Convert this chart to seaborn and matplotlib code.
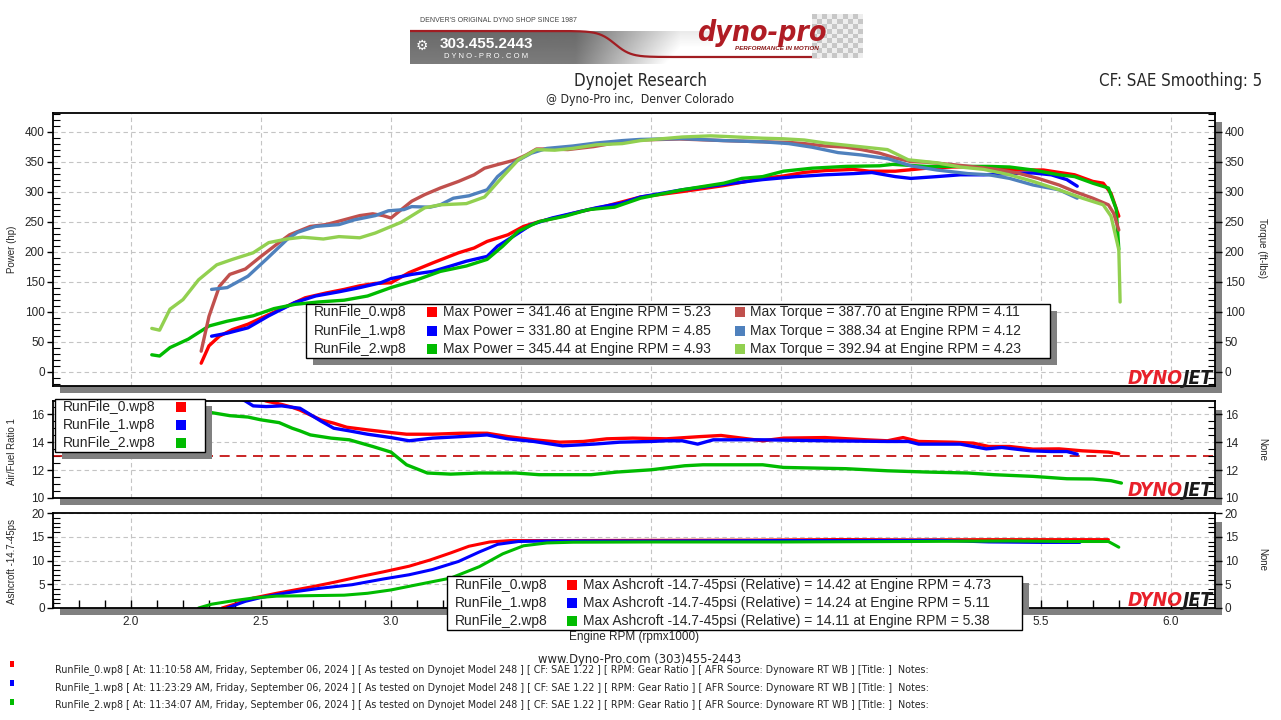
import numpy as np
import matplotlib
matplotlib.use('Agg')
import matplotlib.pyplot as plt
import seaborn as sns
from matplotlib.patches import Rectangle
from matplotlib.ticker import MultipleLocator
from matplotlib import font_manager

# ---- data ----
runs = ['RunFile_0.wp8', 'RunFile_1.wp8', 'RunFile_2.wp8']
run_times = ['11:10:58 AM', '11:23:29 AM', '11:34:07 AM']
power_colors = ['#ff0000', '#0000ff', '#00bb00']
torque_colors = ['#c0504d', '#4f81bd', '#92d050']

max_power = [341.46, 331.80, 345.44]
max_power_rpm = [5.23, 4.85, 4.93]
max_torque = [387.70, 388.34, 392.94]
max_torque_rpm = [4.11, 4.12, 4.23]
max_boost = [14.42, 14.24, 14.11]
max_boost_rpm = [4.73, 5.11, 5.38]

pwr0_rpm = [2.27, 2.30, 2.34, 2.39, 2.45, 2.52, 2.60, 2.67, 2.75, 2.82, 2.88, 2.94, 3.00, 3.07, 3.16, 3.26,
            3.32, 3.37, 3.45, 3.51, 3.57, 3.65, 3.73, 3.82, 3.96, 4.12, 4.28, 4.43, 4.51, 4.59, 4.67, 4.78,
            4.84, 4.94, 5.06, 5.16, 5.23, 5.27, 5.35, 5.41, 5.51, 5.57, 5.63, 5.70, 5.74, 5.77, 5.80]
pwr0 = [14, 43, 59, 70, 79, 93, 109, 123, 131, 137, 143, 147, 148, 165, 181, 198,
        206, 217, 228, 242, 250, 258, 267, 275, 291, 300, 310, 322, 326, 332, 335, 337,
        334, 334, 339, 341, 341.5, 341, 337, 336, 336, 332, 328, 317, 314, 297, 259]
pwr1_rpm = [2.31, 2.37, 2.45, 2.53, 2.63, 2.71, 2.80, 2.88, 2.96, 3.00, 3.08, 3.16, 3.23, 3.29, 3.37, 3.41,
            3.48, 3.54, 3.62, 3.70, 3.79, 3.89, 3.96, 4.12, 4.28, 4.43, 4.56, 4.67, 4.78, 4.85, 4.94, 5.00,
            5.10, 5.19, 5.28, 5.38, 5.47, 5.54, 5.60, 5.64]
pwr1 = [59, 64, 73, 93, 115, 126, 133, 140, 148, 155, 162, 167, 176, 184, 192, 209,
        228, 245, 256, 264, 273, 281, 291, 303, 312, 320, 325, 328, 330, 331.8, 325, 322,
        325, 328, 328, 330, 331, 328, 320, 309]
pwr2_rpm = [2.08, 2.11, 2.15, 2.22, 2.30, 2.37, 2.47, 2.55, 2.63, 2.72, 2.82, 2.91, 3.00, 3.10, 3.19, 3.29,
            3.37, 3.43, 3.49, 3.57, 3.67, 3.76, 3.86, 3.96, 4.12, 4.28, 4.35, 4.43, 4.51, 4.62, 4.75, 4.88,
            4.93, 5.06, 5.19, 5.30, 5.38, 5.47, 5.57, 5.63, 5.70, 5.76, 5.79, 5.80]
pwr2 = [28, 26, 40, 54, 76, 84, 93, 105, 112, 116, 119, 126, 140, 153, 167, 176,
        187, 209, 234, 250, 259, 270, 274, 289, 303, 314, 322, 325, 334, 339, 342, 343,
        345.4, 342, 342, 342, 341, 336, 328, 325, 314, 306, 271, 204]

trq0_rpm = [2.27, 2.30, 2.34, 2.38, 2.44, 2.50, 2.56, 2.61, 2.69, 2.75, 2.82, 2.88, 2.93, 2.97, 3.00, 3.04,
            3.08, 3.13, 3.19, 3.26, 3.32, 3.36, 3.41, 3.48, 3.52, 3.56, 3.62, 3.68, 3.78, 3.86, 3.96, 4.11,
            4.28, 4.43, 4.53, 4.59, 4.67, 4.75, 4.81, 4.88, 4.94, 5.00, 5.06, 5.16, 5.25, 5.33, 5.41, 5.49,
            5.57, 5.63, 5.70, 5.76, 5.78, 5.80]
trq0 = [34, 92, 142, 162, 171, 192, 212, 228, 242, 245, 253, 260, 263, 260, 256, 270,
        284, 295, 306, 317, 328, 339, 345, 353, 361, 371, 371, 370, 375, 381, 386, 387.7,
        385, 383, 382, 380, 376, 374, 370, 364, 356, 350, 349, 345, 341, 337, 331, 322,
        311, 300, 289, 278, 264, 236]
trq1_rpm = [2.31, 2.37, 2.45, 2.52, 2.60, 2.64, 2.71, 2.80, 2.86, 2.94, 2.99, 3.05, 3.08, 3.15, 3.19, 3.24,
            3.30, 3.37, 3.41, 3.48, 3.54, 3.60, 3.70, 3.79, 3.89, 3.96, 4.12, 4.28, 4.43, 4.53, 4.62, 4.72,
            4.81, 4.91, 5.00, 5.10, 5.22, 5.30, 5.38, 5.47, 5.57, 5.64]
trq1 = [137, 140, 159, 187, 220, 232, 242, 245, 253, 260, 268, 270, 275, 274, 278, 289,
        293, 303, 325, 350, 364, 372, 376, 381, 385, 387, 388.3, 385, 383, 380, 374, 365,
        361, 355, 343, 336, 330, 328, 322, 311, 303, 289]
trq2_rpm = [2.08, 2.11, 2.15, 2.20, 2.26, 2.33, 2.39, 2.47, 2.53, 2.60, 2.66, 2.74, 2.80, 2.88, 2.94, 3.04,
            3.13, 3.19, 3.29, 3.36, 3.43, 3.49, 3.56, 3.63, 3.70, 3.79, 3.89, 3.96, 4.12, 4.23, 4.28, 4.43,
            4.51, 4.59, 4.67, 4.78, 4.91, 4.99, 5.10, 5.19, 5.28, 5.38, 5.47, 5.57, 5.66, 5.74, 5.77, 5.80,
            5.805]
trq2 = [72, 69, 104, 120, 153, 178, 187, 198, 215, 221, 224, 221, 225, 223, 231, 249,
        273, 278, 280, 291, 325, 353, 370, 369, 372, 378, 380, 385, 391, 392.9, 392, 389,
        388, 386, 381, 376, 370, 353, 348, 341, 337, 328, 317, 303, 289, 278, 259, 203,
        116]

afr0_rpm = [2.47, 2.52, 2.58, 2.62, 2.65, 2.73, 2.78, 2.83, 2.91, 3.00, 3.06, 3.16, 3.27, 3.37, 3.45, 3.55,
            3.65, 3.74, 3.83, 3.93, 4.06, 4.19, 4.27, 4.35, 4.43, 4.51, 4.67, 4.83, 4.91, 4.97, 5.03, 5.16,
            5.24, 5.30, 5.38, 5.47, 5.57, 5.66, 5.76, 5.80]
afr0 = [17.3, 16.95, 16.7, 16.5, 16.3, 15.6, 15.36, 15.07, 14.88, 14.69, 14.57, 14.57, 14.64, 14.64, 14.4, 14.17,
        14.0, 14.05, 14.24, 14.29, 14.24, 14.4, 14.48, 14.29, 14.1, 14.29, 14.33, 14.17, 14.1, 14.33, 14.05, 14.0,
        13.93, 13.69, 13.69, 13.5, 13.52, 13.38, 13.29, 13.17]
afr1_rpm = [2.40, 2.44, 2.47, 2.52, 2.58, 2.62, 2.65, 2.73, 2.78, 2.84, 2.91, 3.00, 3.07, 3.16, 3.27, 3.37,
            3.45, 3.55, 3.66, 3.78, 3.88, 4.00, 4.06, 4.12, 4.18, 4.24, 4.43, 4.67, 4.91, 4.99, 5.03, 5.19,
            5.29, 5.35, 5.46, 5.54, 5.60, 5.64]
afr1 = [17.3, 16.95, 16.6, 16.55, 16.6, 16.5, 16.43, 15.52, 15.0, 14.81, 14.57, 14.33, 14.1, 14.29, 14.4, 14.52,
        14.24, 14.05, 13.74, 13.86, 14.0, 14.05, 14.1, 14.1, 13.86, 14.17, 14.17, 14.1, 14.05, 14.05, 13.86, 13.86,
        13.52, 13.62, 13.38, 13.33, 13.33, 13.14]
afr2_rpm = [2.08, 2.20, 2.30, 2.38, 2.45, 2.50, 2.57, 2.62, 2.65, 2.69, 2.77, 2.84, 2.93, 3.00, 3.06, 3.14,
            3.23, 3.34, 3.48, 3.57, 3.77, 3.87, 4.00, 4.13, 4.20, 4.43, 4.51, 4.75, 4.91, 5.06, 5.22, 5.32,
            5.47, 5.60, 5.70, 5.77, 5.81]
afr2 = [16.4, 16.3, 16.15, 15.9, 15.8, 15.6, 15.4, 15.0, 14.81, 14.52, 14.29, 14.17, 13.69, 13.29, 12.38, 11.79,
        11.71, 11.79, 11.79, 11.67, 11.67, 11.86, 12.02, 12.31, 12.38, 12.38, 12.19, 12.1, 11.95, 11.86, 11.79, 11.67,
        11.55, 11.38, 11.36, 11.24, 11.07]
afr_target = 13.0

bst0_rpm = [2.35, 2.41, 2.47, 2.56, 2.69, 2.78, 2.88, 2.97, 3.07, 3.15, 3.23, 3.30, 3.38, 3.46, 3.60, 4.00,
            4.40, 4.73, 5.00, 5.30, 5.50, 5.76]
bst0 = [0, 1.0, 2.1, 3.1, 4.4, 5.4, 6.6, 7.6, 8.8, 10.1, 11.6, 13.0, 13.9, 14.2, 14.2, 14.25,
        14.3, 14.42, 14.35, 14.4, 14.4, 14.4]
bst1_rpm = [2.37, 2.44, 2.50, 2.60, 2.72, 2.85, 2.97, 3.07, 3.16, 3.26, 3.34, 3.41, 3.49, 3.60, 4.00, 4.50,
            5.11, 5.30, 5.50, 5.65]
bst1 = [0, 1.4, 2.2, 3.2, 4.1, 4.9, 6.1, 7.0, 8.1, 9.8, 11.8, 13.4, 14.0, 14.1, 14.1, 14.2,
        14.24, 13.9, 13.8, 13.8]
bst2_rpm = [2.26, 2.31, 2.39, 2.47, 2.56, 2.69, 2.82, 2.91, 3.00, 3.11, 3.23, 3.34, 3.43, 3.51, 3.60, 3.70,
            4.00, 4.50, 5.00, 5.38, 5.60, 5.76, 5.80]
bst2 = [0, 0.8, 1.5, 2.1, 2.5, 2.6, 2.7, 3.1, 3.8, 5.0, 6.3, 8.7, 11.4, 13.1, 13.7, 13.85,
        13.9, 13.9, 14.0, 14.11, 14.0, 14.0, 12.8]

power_curves = [(pwr0_rpm, pwr0), (pwr1_rpm, pwr1), (pwr2_rpm, pwr2)]
torque_curves = [(trq0_rpm, trq0), (trq1_rpm, trq1), (trq2_rpm, trq2)]
afr_curves = [(afr0_rpm, afr0), (afr1_rpm, afr1), (afr2_rpm, afr2)]
boost_curves = [(bst0_rpm, bst0), (bst1_rpm, bst1), (bst2_rpm, bst2)]
rpm_ticks = [2.0, 2.5, 3.0, 3.5, 4.0, 4.5, 5.0, 5.5, 6.0]

# ---- style ----
sns.set_theme(style='white')
fonts = font_manager.fontManager.ttflist
names = {f.name for f in fonts}
has_condensed = any(f.name == 'DejaVu Sans' and 'condensed' in str(f.stretch) for f in fonts)
if 'Liberation Sans Narrow' in names:
    NARROW = dict(family='Liberation Sans Narrow')
    SHRINK = 1.0
elif has_condensed:
    NARROW = dict(family='DejaVu Sans', fontstretch='condensed')
    SHRINK = 0.93
else:
    NARROW = dict(family='DejaVu Sans')
    SHRINK = 0.82
plt.rcParams['font.family'] = ['Liberation Sans', 'DejaVu Sans']

W, H = 1281, 720
fig = plt.figure(figsize=(W / 100, H / 100), dpi=100)
fig.patch.set_facecolor('white')


def rect(x0, y0, x1, y1):
    return [x0 / W, 1 - y1 / H, (x1 - x0) / W, (y1 - y0) / H]


def fx(x):
    return x / W


def fy(y):
    return 1 - y / H


def box(x0, y0, x1, y1, **kw):
    fig.add_artist(Rectangle((fx(x0), fy(y1)), (x1 - x0) / W, (y1 - y0) / H,
                             transform=fig.transFigure, **kw))


def ntext(x, y, s, size, **kw):
    # narrow font text, size scaled when only a wide face is available
    return fig.text(fx(x), fy(y), s, fontsize=size * SHRINK, **NARROW, **kw)


GRID = dict(color='#c4c4c4', linestyle=(0, (4, 3)), linewidth=0.8)
SHADOW = '#808080'

ax_top = fig.add_axes(rect(53, 113, 1215, 386))
ax_mid = fig.add_axes(rect(53, 401, 1215, 498))
ax_bot = fig.add_axes(rect(53, 513, 1215, 608))

panels = [
    (ax_top, (-24, 431), 50, 10, 113, 386),
    (ax_mid, (10, 16.95), 2, 0.5, 401, 498),
    (ax_bot, (0, 20), 5, 1, 513, 608),
]

for ax, ylim, major, minor, y0, y1 in panels:
    # drop shadows
    box(60, y1, 1222, y1 + 7, color=SHADOW, zorder=-1, lw=0)
    box(1215, y0 + 9, 1222, y1, color=SHADOW, zorder=-1, lw=0)
    ax.set_xlim(1.70, 6.17)
    ax.set_ylim(*ylim)
    ax.set_xticks(rpm_ticks)
    ax.yaxis.set_major_locator(MultipleLocator(major))
    ax.yaxis.set_minor_locator(MultipleLocator(minor))
    ax.grid(True, which='major', **GRID)
    ax.set_axisbelow(True)
    for s in ax.spines.values():
        s.set_color('black')
        s.set_linewidth(1.3)
    ax.tick_params(axis='y', which='major', direction='out', length=4, width=1, color='black',
                   labelsize=8.5, pad=2, left=True)
    ax.tick_params(axis='y', which='minor', direction='in', length=5, width=0.8, color='black', left=True)
    ax.tick_params(axis='x', which='both', length=0, labelbottom=False)
    tw = ax.twinx()
    tw.set_ylim(*ylim)
    tw.yaxis.set_major_locator(MultipleLocator(major))
    tw.yaxis.set_minor_locator(MultipleLocator(minor))
    tw.tick_params(axis='y', which='major', direction='out', length=5, width=1, color='black',
                   labelsize=8.5, pad=2, right=True)
    tw.tick_params(axis='y', which='minor', direction='in', length=5, width=0.8, color='black', right=True)
    tw.grid(False)
    for s in tw.spines.values():
        s.set_visible(False)
    if ax is ax_top:
        ax.set_yticks(range(0, 401, 50))
        tw.set_yticks(range(0, 401, 50))
    ax.set_ylim(*ylim)
    tw.set_ylim(*ylim)


def trace(ax, x, y, color, lw=2.4):
    sns.lineplot(x=x, y=y, ax=ax, color=color, linewidth=lw, estimator=None, sort=False,
                 legend=False, solid_capstyle='round')


for (x, y), c in zip(power_curves, power_colors):
    trace(ax_top, x, y, c)
for (x, y), c in zip(torque_curves, torque_colors):
    trace(ax_top, x, y, c)

ax_mid.axhline(afr_target, color='#c00000', linestyle=(0, (6, 4)), linewidth=1.2)
for (x, y), c in zip(afr_curves, power_colors):
    trace(ax_mid, x, y, c)
for (x, y), c in zip(boost_curves, power_colors):
    trace(ax_bot, x, y, c, lw=2.2)

# bottom panel rpm axis; labels under the boost legend are hidden there, as on the sheet
ax_bot.xaxis.set_minor_locator(MultipleLocator(0.1))
ax_bot.tick_params(axis='x', which='both', direction='in', length=6, width=1, color='black',
                   bottom=True, labelbottom=True, labelsize=8.5, pad=6)
ax_bot.set_xticklabels([f'{t:.1f}' if t < 3.3 or t > 5.2 else '' for t in rpm_ticks])
ax_bot.set_xlabel('')
for ax in (ax_top, ax_mid, ax_bot):
    ax.set_ylabel('')
fig.text(fx(634), fy(637), 'Engine RPM (rpmx1000)', ha='center', va='center', fontsize=8.5)

# axis titles
fig.text(fx(12), fy(249), 'Power (hp)', rotation=90, ha='center', va='center', fontsize=7)
fig.text(fx(12), fy(452), 'Air/Fuel Ratio 1', rotation=90, ha='center', va='center', fontsize=7)
fig.text(fx(12), fy(562), 'Ashcroft -14.7-45ps', rotation=90, ha='center', va='center', fontsize=7)
fig.text(fx(1262), fy(248), 'Torque (ft-lbs)', rotation=270, ha='center', va='center', fontsize=7)
fig.text(fx(1262), fy(450), 'None', rotation=270, ha='center', va='center', fontsize=7)
fig.text(fx(1262), fy(560), 'None', rotation=270, ha='center', va='center', fontsize=7)

# ---- legends ----
LEG = dict(fontsize=10, va='center', ha='left', zorder=8)


def legend_frame(x0, y0, x1, y1, shadow_bottom):
    box(x0 + 7, y0 + 7, x1 + 7, shadow_bottom, color=SHADOW, lw=0, zorder=6)
    box(x0, y0, x1, y1, facecolor='white', edgecolor='black', lw=1, zorder=7)


def swatch(xc, yc, color):
    box(xc - 5, yc - 5, xc + 5, yc + 5, color=color, lw=0, zorder=8)


legend_frame(306, 304, 1050, 358, 365)
for i, run in enumerate(runs):
    yc = 312 + i * 18.5
    fig.text(fx(314), fy(yc), run, **LEG)
    swatch(432, yc, power_colors[i])
    fig.text(fx(443), fy(yc), f'Max Power = {max_power[i]:.2f} at Engine RPM = {max_power_rpm[i]:.2f}', **LEG)
    swatch(740, yc, torque_colors[i])
    fig.text(fx(750), fy(yc), f'Max Torque = {max_torque[i]:.2f} at Engine RPM = {max_torque_rpm[i]:.2f}', **LEG)

legend_frame(55, 399, 205, 452, 459)
for i, run in enumerate(runs):
    yc = 407 + i * 18
    fig.text(fx(63), fy(yc), run, **LEG)
    swatch(181, yc, power_colors[i])

legend_frame(447, 576, 1022, 630, 614)
for i, run in enumerate(runs):
    yc = 585 + i * 18
    fig.text(fx(455), fy(yc), run, **LEG)
    swatch(572, yc, power_colors[i])
    fig.text(fx(583), fy(yc),
             f'Max Ashcroft -14.7-45psi (Relative) = {max_boost[i]:.2f} at Engine RPM = {max_boost_rpm[i]:.2f}',
             **LEG)

# ---- DYNOJET marks ----
renderer = fig.canvas.get_renderer()
for ybase in (379, 490, 600):
    jet = ntext(1213, ybase, 'JET', 15, ha='right', va='center', weight='bold', style='italic',
                color='#1a1a1a', zorder=9)
    bb = jet.get_window_extent(renderer)
    fig.text(bb.x0 / W, fy(ybase), 'DYNO', ha='right', va='center', fontsize=15 * SHRINK,
             weight='bold', style='italic', color='#e8202a', zorder=9, **NARROW)

# ---- header ----
ntext(640, 81, 'Dynojet Research', 13, ha='center', va='center')
ntext(640, 100, '@ Dyno-Pro inc,  Denver Colorado', 9.5, ha='center', va='center')
ntext(1262, 81, 'CF: SAE Smoothing: 5', 13, ha='right', va='center')

ax_logo = fig.add_axes(rect(410, 28, 870, 66))
ax_logo.set_xlim(0, 460)
ax_logo.set_ylim(38, 0)
ax_logo.axis('off')
grad_x = np.linspace(0, 1, 300)
shade = np.clip(0.45 + 0.55 * (grad_x - 0.55) / 0.35, 0.45, 1.0)
shade_rows = np.linspace(0.92, 1.08, 30)[:, None] * shade[None, :]
ax_logo.imshow(np.clip(shade_rows, 0, 1), cmap='gray', vmin=0, vmax=1, extent=(0, 300, 36, 3),
               aspect='auto', zorder=0)
sx = np.linspace(0, 410, 300)
ax_logo.plot(sx, 3 + 26 * (0.5 + 0.5 * np.tanh((sx - 205) / 16)), color='#a11d22', lw=1.6, zorder=2)
ax_logo.text(30, 16, '303.455.2443', color='white', fontsize=11, fontweight='bold', va='center')
ax_logo.text(34, 28, 'D Y N O - P R O . C O M', color='white', fontsize=5.5, va='center')
ax_logo.text(12, 18, '\u2699', color='white', fontsize=10, va='center', ha='center')

ax_chk = fig.add_axes(rect(812, 14, 862, 58))
ii, jj = np.indices((9, 10))
chk = np.where((ii + jj) % 2 == 0, 0.78, 0.93)
ax_chk.imshow(chk, cmap='gray', vmin=0, vmax=1, aspect='auto')
ax_chk.axis('off')

fig.text(fx(420), fy(20), "DENVER'S ORIGINAL DYNO SHOP SINCE 1987", fontsize=5, color='#444444',
         va='center', ha='left')
ntext(697, 33, 'dyno-pro', 22, fontweight='bold', style='italic', color='#b01c24',
      va='center', ha='left', zorder=5)
fig.text(fx(735), fy(49), 'PERFORMANCE IN MOTION', fontsize=4.5, fontweight='bold', style='italic',
         color='#8a1a1a', va='center', ha='left', zorder=5)

# ---- footer ----
ntext(640, 659, 'www.Dyno-Pro.com (303)455-2443', 10, ha='center', va='center')
for i, run in enumerate(runs):
    box(10, 661 + i * 19, 14, 667 + i * 19, color=power_colors[i], lw=0)
    ntext(55, 670 + i * 17.5,
          f'{run} [ At: {run_times[i]}, Friday, September 06, 2024 ] [ As tested on Dynojet Model 248 ] '
          f'[ CF: SAE 1.22 ] [ RPM: Gear Ratio ] [ AFR Source: Dynoware RT WB ] [Title: ]  Notes:',
          8.2, ha='left', va='center')

fig.savefig('out.png', dpi=100)
